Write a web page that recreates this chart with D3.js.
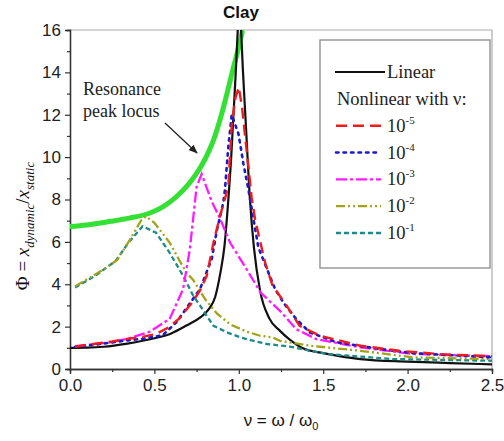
<!DOCTYPE html>
<html>
<head>
<meta charset="utf-8">
<script src="https://cdn.jsdelivr.net/npm/d3@7"></script>
<style>
  html, body { margin: 0; padding: 0; background: #fff; }
  svg { display: block; }
</style>
</head>
<body>
<svg id="chart" width="504" height="441"></svg>
<script>
// Frequency ratio ν = ω/ω0 versus amplification Φ, [ν, Φ] pairs
const linearSeries = [
  [0, 1.0], [0.1, 1.01], [0.2, 1.05], [0.34, 1.2], [0.5, 1.45], [0.6, 1.68],
  [0.69, 2.05], [0.77, 2.42], [0.82, 2.8], [0.86, 3.4], [0.89, 4.5], [0.915, 5.8],
  [0.938, 8.0], [0.955, 10.0], [0.967, 11.8], [0.982, 14.0], [0.995, 16.2],
  [1.003, 17.2], [1.012, 16.2], [1.025, 14.0], [1.04, 11.8], [1.066, 8.0],
  [1.09, 5.7], [1.126, 3.7], [1.18, 2.4], [1.244, 1.8], [1.3, 1.4], [1.38, 0.98],
  [1.5, 0.75], [1.72, 0.47], [2.0, 0.35], [2.25, 0.28], [2.5, 0.22]
];
const nl1e5 = [
  [0.03, 1.05], [0.14, 1.18], [0.25, 1.3], [0.336, 1.42], [0.42, 1.5], [0.51, 1.65],
  [0.58, 1.95], [0.65, 2.4], [0.72, 3.1], [0.77, 3.7], [0.81, 4.4], [0.85, 5.97],
  [0.889, 7.23], [0.938, 8.6], [0.958, 11.5], [0.98, 12.8], [1.0, 13.3], [1.02, 12.3],
  [1.04, 10.8], [1.057, 9.55], [1.076, 8.1], [1.096, 7.08], [1.155, 5.04], [1.2, 3.93],
  [1.27, 3.15], [1.36, 2.04], [1.48, 1.57], [1.72, 1.1], [1.95, 0.86], [2.2, 0.7], [2.5, 0.6]
];
const nl1e4 = [
  [0.03, 1.05], [0.1, 1.1], [0.2, 1.2], [0.32, 1.33], [0.45, 1.45], [0.55, 1.6],
  [0.63, 2.2], [0.71, 3.1], [0.77, 3.77], [0.84, 5.2], [0.869, 6.5], [0.908, 7.85],
  [0.918, 8.47], [0.938, 10.5], [0.958, 12.0], [0.998, 11.1], [1.027, 9.7],
  [1.057, 8.47], [1.116, 5.73], [1.215, 3.77], [1.27, 3.07], [1.34, 2.36], [1.42, 1.73],
  [1.58, 1.26], [1.84, 0.94], [2.03, 0.75], [2.5, 0.55]
];
const nl1e3 = [
  [0.03, 1.08], [0.24, 1.26], [0.35, 1.45], [0.47, 1.75], [0.59, 2.36], [0.67, 3.77],
  [0.71, 5.66], [0.75, 8.6], [0.78, 9.2], [0.84, 7.9], [0.889, 7.1], [0.948, 5.97],
  [1.047, 4.7], [1.13, 3.6], [1.25, 2.7], [1.34, 1.88], [1.46, 1.41], [1.72, 1.02],
  [2.03, 0.71], [2.5, 0.6]
];
const nl1e2 = [
  [0.03, 3.9], [0.2, 4.7], [0.28, 5.15], [0.355, 6.1], [0.42, 7.0], [0.45, 7.2],
  [0.5, 6.9], [0.59, 5.97], [0.65, 5.1], [0.69, 4.55], [0.73, 4.2], [0.8, 3.3],
  [0.87, 2.62], [0.95, 2.1], [1.047, 1.76], [1.126, 1.57], [1.2, 1.49], [1.244, 1.33],
  [1.42, 1.1], [1.72, 0.86], [2.03, 0.55], [2.5, 0.47]
];
const nl1e1 = [
  [0.03, 3.85], [0.15, 4.4], [0.27, 5.1], [0.35, 6.0], [0.43, 6.74], [0.51, 6.43],
  [0.59, 5.49], [0.67, 4.4], [0.73, 3.46], [0.77, 3.0], [0.81, 2.51], [0.85, 2.04],
  [0.93, 1.73], [1.007, 1.5], [1.047, 1.41], [1.165, 1.18], [1.3, 1.06], [1.52, 0.71],
  [1.91, 0.47], [2.5, 0.39]
];
const peakLocus = [
  [0, 6.72], [0.1, 6.8], [0.24, 6.97], [0.35, 7.12], [0.47, 7.35], [0.55, 7.65],
  [0.63, 8.13], [0.7, 8.7], [0.75, 9.23], [0.8, 9.9], [0.85, 10.8], [0.89, 11.8],
  [0.93, 13.0], [0.967, 14.2], [1.0, 15.2], [1.02, 15.9]
];
const xTicks = [0, 0.5, 1.0, 1.5, 2.0, 2.5];
const yTicks = [0, 2, 4, 6, 8, 10, 12, 14, 16];
const legendExponents = ["-5", "-4", "-3", "-2", "-1"];

const svg = d3.select("#chart");
const plotL = 70, plotR = 492, plotT = 30, plotB = 369;
const x = d3.scaleLinear().domain([0, 2.5]).range([plotL, plotR]);
const y = d3.scaleLinear().domain([0, 16]).range([plotB, plotT]);

const defs = svg.append("defs");
defs.append("clipPath").attr("id", "plotClip")
  .append("rect").attr("x", plotL).attr("y", plotT).attr("width", plotR - plotL).attr("height", plotB - plotT);

// frame: light top and right edges
svg.append("line").attr("x1", plotL).attr("x2", plotR).attr("y1", plotT).attr("y2", plotT)
  .attr("stroke", "#aaa").attr("stroke-width", 1.2);
svg.append("line").attr("x1", plotR).attr("x2", plotR).attr("y1", plotT).attr("y2", plotB)
  .attr("stroke", "#aaa").attr("stroke-width", 1.2);

// axes
const sans = "'Liberation Sans', Arial, sans-serif";
const serif = "'Liberation Serif', 'Times New Roman', serif";

const xAxis = svg.append("g").attr("transform", `translate(0,${plotB})`)
  .call(d3.axisBottom(x).tickValues(xTicks).tickFormat(d3.format(".1f")).tickSizeOuter(0).tickSize(5).tickPadding(5));
const xMinor = svg.append("g").attr("transform", `translate(0,${plotB})`)
  .call(d3.axisBottom(x).tickValues([0.25, 0.75, 1.25, 1.75, 2.25]).tickFormat("").tickSizeOuter(0).tickSize(3));
const yAxis = svg.append("g").attr("transform", `translate(${plotL},0)`)
  .call(d3.axisLeft(y).tickValues(yTicks).tickSizeOuter(0).tickSize(5).tickPadding(4));
const yMinor = svg.append("g").attr("transform", `translate(${plotL},0)`)
  .call(d3.axisLeft(y).tickValues([1, 3, 5, 7, 9, 11, 13, 15]).tickFormat("").tickSizeOuter(0).tickSize(3));

[xAxis, xMinor, yAxis, yMinor].forEach(g => {
  g.selectAll(".domain").attr("stroke", "#333").attr("stroke-width", 1.3);
  g.selectAll(".tick line").attr("stroke", "#333").attr("stroke-width", 1.2);
  g.selectAll("text").attr("font-family", sans).attr("font-size", 17).attr("fill", "#222");
});

// series
const lineGen = d3.line().x(d => x(d[0])).y(d => y(d[1]));
const smoothGen = d3.line().x(d => x(d[0])).y(d => y(d[1])).curve(d3.curveMonotoneX);
const plot = svg.append("g").attr("clip-path", "url(#plotClip)");

const styles = [
  { data: nl1e1, color: "#1f8a8a", dash: "5,3", width: 2.3 },
  { data: nl1e2, color: "#a3a31a", dash: "9,3,2,3,2,3", width: 2.3 },
  { data: nl1e3, color: "#ff1aff", dash: "11,3,3,3", width: 2.3 },
  { data: nl1e4, color: "#1a1acc", dash: "2.5,5", width: 2.6 },
  { data: nl1e5, color: "#ee1c1c", dash: "11,6", width: 2.4 }
];

plot.append("path").datum(peakLocus).attr("d", smoothGen)
  .attr("fill", "none").attr("stroke", "#33e033").attr("stroke-width", 5).attr("stroke-linecap", "round");
plot.append("path").datum(linearSeries).attr("d", smoothGen)
  .attr("fill", "none").attr("stroke", "#111").attr("stroke-width", 2.2);
styles.forEach(s => {
  plot.append("path").datum(s.data).attr("d", lineGen)
    .attr("fill", "none").attr("stroke", s.color).attr("stroke-width", s.width)
    .attr("stroke-dasharray", s.dash).attr("stroke-linecap", s.dash === "2.5,5" ? "round" : "butt");
});

// title
svg.append("text").attr("x", 241).attr("y", 18).attr("text-anchor", "middle")
  .attr("font-family", sans).attr("font-weight", "bold").attr("font-size", 17).attr("fill", "#111").text("Clay");

// y label
const yl = svg.append("text").attr("transform", "translate(29,226) rotate(-90)")
  .attr("text-anchor", "middle").attr("font-family", serif).attr("font-size", 19).attr("fill", "#111");
yl.append("tspan").text("Φ = ");
yl.append("tspan").attr("font-style", "italic").text("x");
yl.append("tspan").attr("font-style", "italic").attr("font-size", 13).attr("dy", 5).text("dynamic");
yl.append("tspan").attr("dy", -5).text("/");
yl.append("tspan").attr("font-style", "italic").text("x");
yl.append("tspan").attr("font-style", "italic").attr("font-size", 13).attr("dy", 5).text("static");

// x label
const xl = svg.append("text").attr("x", 281).attr("y", 426).attr("text-anchor", "middle")
  .attr("font-family", sans).attr("font-size", 17).attr("fill", "#111");
xl.append("tspan").text("ν = ω / ω");
xl.append("tspan").attr("font-size", 11).attr("dy", 4).text("0");

// annotation
const ann = svg.append("text").attr("font-family", serif).attr("font-size", 18).attr("fill", "#222");
ann.append("tspan").attr("x", 83).attr("y", 95).text("Resonance");
ann.append("tspan").attr("x", 83).attr("y", 117).text("peak locus");
defs.append("marker").attr("id", "arrowHead").attr("viewBox", "0 0 10 10")
  .attr("refX", 9).attr("refY", 5).attr("markerWidth", 7).attr("markerHeight", 7).attr("orient", "auto")
  .append("path").attr("d", "M0,1 L10,5 L0,9 z").attr("fill", "#222");
svg.append("line").attr("x1", 165).attr("y1", 123).attr("x2", 197).attr("y2", 153)
  .attr("stroke", "#222").attr("stroke-width", 1.3).attr("marker-end", "url(#arrowHead)");

// legend
const lg = svg.append("g");
lg.append("rect").attr("x", 320).attr("y", 40).attr("width", 170).attr("height", 228)
  .attr("fill", "#fff").attr("stroke", "#999").attr("stroke-width", 1.5);
const rowY = [72, 98.8, 125.7, 152.5, 179.3, 206.1, 233];
lg.append("line").attr("x1", 335).attr("x2", 385).attr("y1", rowY[0]).attr("y2", rowY[0])
  .attr("stroke", "#111").attr("stroke-width", 2.2);
lg.append("text").attr("x", 387).attr("y", rowY[0] + 6).attr("font-family", serif).attr("font-size", 18.5)
  .attr("fill", "#222").text("Linear");
lg.append("text").attr("x", 337).attr("y", rowY[1] + 6).attr("font-family", serif).attr("font-size", 18.5)
  .attr("fill", "#222").text("Nonlinear with ν:");
const legendOrder = [4, 3, 2, 1, 0];
legendOrder.forEach((si, i) => {
  const s = styles[si];
  const ry = rowY[i + 2];
  lg.append("line").attr("x1", 336).attr("x2", 381).attr("y1", ry).attr("y2", ry)
    .attr("stroke", s.color).attr("stroke-width", s.width).attr("stroke-dasharray", s.dash)
    .attr("stroke-linecap", s.dash === "2.5,5" ? "round" : "butt");
  const t = lg.append("text").attr("x", 387).attr("y", ry + 6).attr("font-family", serif)
    .attr("font-size", 18.5).attr("fill", "#222");
  t.append("tspan").text("10");
  t.append("tspan").attr("font-size", 11).attr("dy", -8).text(legendExponents[i]);
});
</script>
</body>
</html>
